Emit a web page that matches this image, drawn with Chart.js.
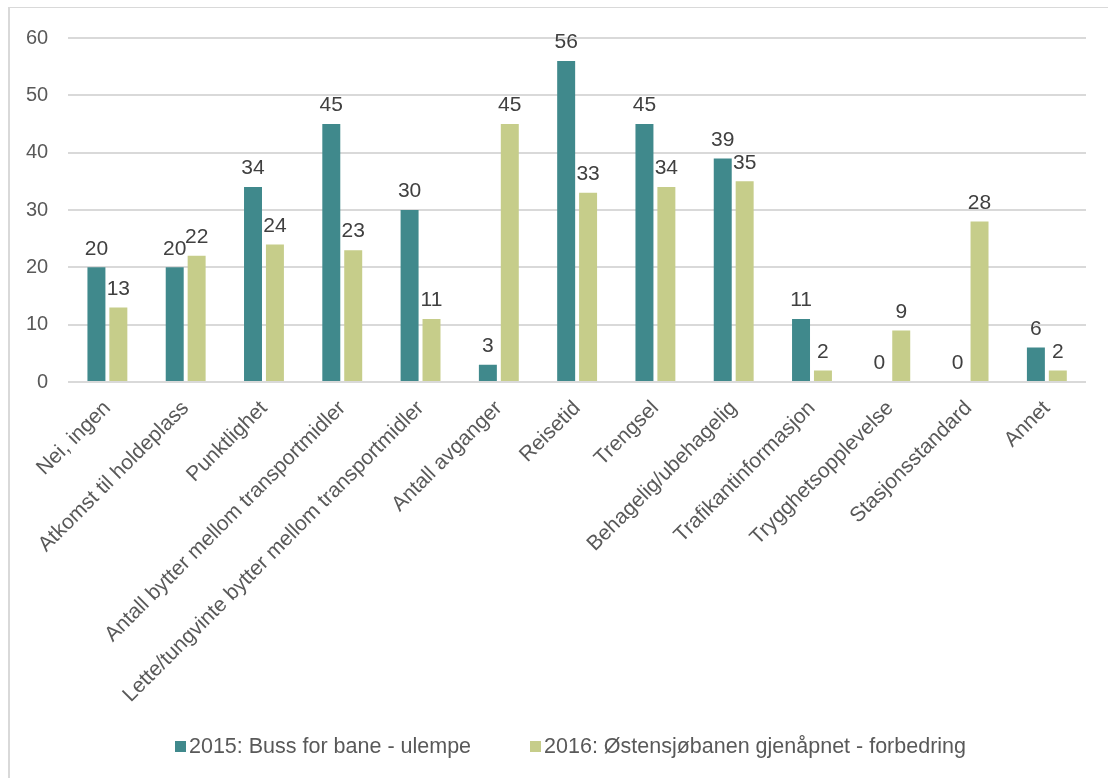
<!DOCTYPE html>
<html>
<head>
<meta charset="utf-8">
<script src="https://cdn.jsdelivr.net/npm/chart.js@4/dist/chart.umd.min.js"></script>
<style>
  html, body { margin: 0; padding: 0; background: #fff; }
  #wrap { position: relative; width: 1108px; height: 778px; overflow: hidden; font-family: 'Liberation Sans', Arial, sans-serif; }
  #frame { position: absolute; left: 8px; top: 7px; width: 1110px; height: 780px; border: 1px solid #D9D9D9; box-sizing: border-box; border-width: 1px 0 0 2px; }
  #c { position: absolute; left: 0; top: 0; }
  #legend { position: absolute; left: 175px; top: 734px; height: 24px; display: flex; align-items: center; font-size: 21.5px; line-height: 24px; color: #595959; white-space: nowrap; }
  #legend .item { display: flex; align-items: center; }
  #legend .item + .item { margin-left: 59px; }
  #legend .box { width: 11px; height: 11px; margin-right: 3px; }
</style>
</head>
<body>
<div id="wrap">
  <div id="frame"></div>
  <canvas id="c" width="1108" height="778"></canvas>
  <div id="legend"></div>
</div>
<script>
const categories = [
  "Nei, ingen",
  "Atkomst til holdeplass",
  "Punktlighet",
  "Antall bytter mellom transportmidler",
  "Lette/tungvinte bytter mellom transportmidler",
  "Antall avganger",
  "Reisetid",
  "Trengsel",
  "Behagelig/ubehagelig",
  "Trafikantinformasjon",
  "Trygghetsopplevelse",
  "Stasjonsstandard",
  "Annet"
];
const series2015Name = "2015: Buss for bane - ulempe";
const series2016Name = "2016: Østensjøbanen gjenåpnet - forbedring";
const values2015 = [20, 20, 34, 45, 30, 3, 56, 45, 39, 11, 0, 0, 6];
const values2016 = [13, 22, 24, 23, 11, 45, 33, 34, 35, 2, 9, 28, 2];
const yTicks = [0, 10, 20, 30, 40, 50, 60];

const FONT = "'Liberation Sans', Arial, sans-serif";

const valueLabels = {
  id: 'valueLabels',
  afterDatasetsDraw(chart) {
    const ctx = chart.ctx;
    ctx.save();
    ctx.font = "21px " + FONT;
    ctx.fillStyle = "#404040";
    ctx.textAlign = "center";
    ctx.textBaseline = "bottom";
    chart.data.datasets.forEach((ds, i) => {
      const meta = chart.getDatasetMeta(i);
      meta.data.forEach((el, j) => {
        ctx.fillText(String(ds.data[j]), el.x, el.y - 8);
      });
    });
    ctx.restore();
  }
};

const chart = new Chart(document.getElementById('c'), {
  type: 'bar',
  data: {
    labels: categories,
    datasets: [
      { label: series2015Name, data: values2015, backgroundColor: '#40898C', categoryPercentage: 0.56, barPercentage: 0.82 },
      { label: series2016Name, data: values2016, backgroundColor: '#C6CD8A', categoryPercentage: 0.56, barPercentage: 0.82 }
    ]
  },
  options: {
    responsive: false,
    animation: false,
    devicePixelRatio: 1,
    layout: { padding: { left: 6, right: 22, top: 38, bottom: 56 } },
    plugins: {
      legend: { display: false },
      tooltip: { enabled: false }
    },
    scales: {
      x: {
        grid: { display: false, drawTicks: false },
        border: { display: false },
        afterFit(scale) { scale.height = 340; },
        ticks: {
          autoSkip: false,
          maxRotation: 45,
          minRotation: 45,
          padding: 14,
          color: '#595959',
          font: { family: FONT, size: 21 }
        }
      },
      y: {
        min: 0,
        max: 60,
        afterBuildTicks(axis) { axis.ticks = yTicks.map(v => ({ value: v })); },
        grid: { color: '#D9D9D9', lineWidth: 2, drawTicks: false },
        border: { display: false },
        ticks: {
          padding: 20,
          color: '#595959',
          font: { family: FONT, size: 20 }
        }
      }
    }
  },
  plugins: [valueLabels]
});

// HTML legend built from the chart's datasets
const legendEl = document.getElementById('legend');
chart.data.datasets.forEach(ds => {
  const item = document.createElement('div');
  item.className = 'item';
  const box = document.createElement('span');
  box.className = 'box';
  box.style.background = ds.backgroundColor;
  const txt = document.createElement('span');
  txt.textContent = ds.label;
  item.appendChild(box);
  item.appendChild(txt);
  legendEl.appendChild(item);
});
</script>
</body>
</html>
